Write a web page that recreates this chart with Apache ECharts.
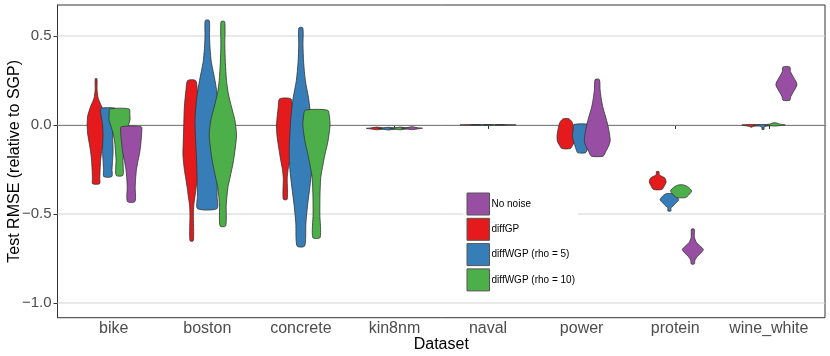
<!DOCTYPE html>
<html><head><meta charset="utf-8">
<script src="https://cdn.jsdelivr.net/npm/echarts@6/dist/echarts.min.js"></script>
<style>html,body{margin:0;padding:0;background:#fff}#c{width:830px;height:356px}</style>
</head><body><div id="c"></div>
<script>
const categories = ['bike','boston','concrete','kin8nm','naval','power','protein','wine_white'];
const seriesNames = ['diffGP','diffWGP (rho = 5)','diffWGP (rho = 10)','No noise'];
const legendOrder = ['No noise','diffGP','diffWGP (rho = 5)','diffWGP (rho = 10)'];
const colors = ['#E41A1C','#377EB8','#4DAF4A','#984EA3'];
const yTicks = [-1.0,-0.5,0.0,0.5];

// Violin outlines per dataset: [value, relative width] from top to bottom
const diffGP = [
  [[0.26,0.08],[0.2,0.09],[0.15,0.2],[0.1,0.55],[0.05,0.8],[0.0,0.85],[-0.05,0.8],[-0.1,0.66],[-0.15,0.52],[-0.2,0.43],[-0.25,0.38],[-0.3,0.35],[-0.33,0.33]],
  [[0.25,0.28],[0.2,0.4],[0.1,0.52],[0.0,0.56],[-0.1,0.6],[-0.17,0.62],[-0.25,0.52],[-0.3,0.42],[-0.35,0.32],[-0.4,0.24],[-0.45,0.15],[-0.5,0.12],[-0.65,0.12]],
  [[0.147,0.4],[0.1,0.5],[0.05,0.57],[0.0,0.62],[-0.05,0.6],[-0.1,0.52],[-0.15,0.42],[-0.2,0.32],[-0.25,0.2],[-0.3,0.14],[-0.417,0.14]],
  [[-0.012,0.05],[-0.016,0.5],[-0.019,1],[-0.023,0.5],[-0.027,0.05]],
  [[0.002,0.05],[0.0005,1],[-0.001,0.05]],
  [[0.035,0.2],[0.02,0.4],[0.0,0.5],[-0.03,0.58],[-0.06,0.64],[-0.09,0.62],[-0.11,0.5],[-0.132,0.3]],
  [[-0.262,0.12],[-0.28,0.15],[-0.29,0.45],[-0.3,0.7],[-0.32,0.8],[-0.34,0.65],[-0.362,0.4]],
  [[0.003,0.1],[0.0,0.9],[-0.004,0.6],[-0.008,0.15],[-0.012,0.1]]
];
const diffWGP5 = [
  [[0.095,0.66],[0.08,0.7],[0.05,0.62],[0.0,0.5],[-0.05,0.45],[-0.1,0.48],[-0.15,0.5],[-0.2,0.45],[-0.25,0.4],[-0.29,0.38]],
  [[0.587,0.14],[0.5,0.16],[0.43,0.2],[0.35,0.3],[0.25,0.55],[0.15,0.75],[0.05,0.86],[0.0,0.87],[-0.1,0.82],[-0.2,0.76],[-0.3,0.72],[-0.4,0.7],[-0.47,0.69]],
  [[0.545,0.14],[0.45,0.15],[0.35,0.2],[0.25,0.32],[0.15,0.55],[0.05,0.7],[-0.05,0.78],[-0.15,0.83],[-0.25,0.78],[-0.35,0.64],[-0.45,0.48],[-0.55,0.36],[-0.68,0.27]],
  [[-0.013,0.05],[-0.017,0.5],[-0.02,1],[-0.024,0.5],[-0.028,0.05]],
  [[0.002,0.05],[0.0005,1],[-0.001,0.05]],
  [[0.003,0.55],[-0.02,0.6],[-0.05,0.65],[-0.08,0.62],[-0.11,0.5],[-0.14,0.38],[-0.156,0.28]],
  [[-0.386,0.3],[-0.4,0.65],[-0.42,0.88],[-0.44,0.6],[-0.455,0.35],[-0.465,0.15],[-0.483,0.14]],
  [[0.002,0.3],[-0.002,0.9],[-0.007,0.3],[-0.012,0.1],[-0.025,0.1]]
];
const diffWGP10 = [
  [[0.09,0.92],[0.06,0.98],[0.03,1.0],[0.0,0.85],[-0.05,0.6],[-0.1,0.45],[-0.15,0.38],[-0.2,0.33],[-0.283,0.32]],
  [[0.58,0.13],[0.45,0.14],[0.35,0.18],[0.25,0.26],[0.18,0.38],[0.1,0.62],[0.03,0.85],[-0.05,0.97],[-0.1,0.93],[-0.2,0.76],[-0.3,0.5],[-0.35,0.36],[-0.45,0.24],[-0.567,0.2]],
  [[0.083,0.8],[0.05,0.92],[0.0,0.97],[-0.05,0.9],[-0.1,0.8],[-0.15,0.65],[-0.2,0.52],[-0.25,0.4],[-0.3,0.3],[-0.4,0.25],[-0.5,0.24],[-0.632,0.26]],
  [[-0.012,0.05],[-0.016,0.5],[-0.019,1],[-0.023,0.5],[-0.027,0.05]],
  [[0.002,0.05],[0.0005,1],[-0.001,0.05]],
  null,
  [[-0.337,0.25],[-0.35,0.7],[-0.37,1.0],[-0.385,0.85],[-0.4,0.6],[-0.408,0.45]],
  [[0.012,0.15],[0.006,0.4],[0.0,1.0],[-0.004,0.4],[-0.006,0.1]]
];
const noNoise = [
  [[-0.01,0.95],[-0.04,1.0],[-0.1,0.92],[-0.15,0.82],[-0.2,0.65],[-0.25,0.5],[-0.3,0.42],[-0.35,0.38],[-0.43,0.36]],
  null,
  null,
  [[-0.01,0.05],[-0.015,0.5],[-0.018,1],[-0.022,0.5],[-0.026,0.05]],
  [[0.002,0.05],[0.0005,1],[-0.001,0.05]],
  [[0.255,0.15],[0.2,0.2],[0.15,0.28],[0.1,0.4],[0.05,0.58],[0.0,0.75],[-0.05,0.87],[-0.09,0.92],[-0.12,0.8],[-0.15,0.6],[-0.175,0.42]],
  [[-0.585,0.13],[-0.63,0.15],[-0.66,0.35],[-0.68,0.7],[-0.7,1.0],[-0.72,0.75],[-0.74,0.4],[-0.76,0.2],[-0.781,0.14]],
  [[0.326,0.32],[0.3,0.38],[0.27,0.65],[0.245,0.9],[0.225,1.0],[0.2,0.8],[0.18,0.6],[0.16,0.42],[0.139,0.32]]
];
const profiles = [diffGP, diffWGP5, diffWGP10, noNoise];

const FONT = "'Liberation Sans', Arial, Helvetica, sans-serif";
const X_MIN = 0.4, X_MAX = 8.6;
const DODGE = 0.5, VWIDTH = 0.9;

function placement(s, ci) {
  const present = [];
  for (let k = 0; k < profiles.length; k++) if (profiles[k][ci]) present.push(k);
  const n = present.length, r = present.indexOf(s);
  return { cx: ci + 1 + (r - (n - 1) / 2) * DODGE / n, half: VWIDTH / n / 2 };
}

const violinSeries = seriesNames.map((name, s) => ({
  type: 'custom',
  name: name,
  z: 3,
  itemStyle: { color: colors[s], borderColor: '#333', borderWidth: 0.8 },
  data: categories.map((c, ci) => profiles[s][ci] ? [ci + 1, profiles[s][ci][0][0], profiles[s][ci][profiles[s][ci].length - 1][0]] : null).filter(d => d),
  encode: { x: 0, y: [1, 2] },
  renderItem: function (params, api) {
    const ci = api.value(0) - 1;
    const prof = profiles[s][ci];
    const p = placement(s, ci);
    const right = prof.map(([v, w]) => api.coord([p.cx + w * p.half, v]));
    const left = prof.slice().reverse().map(([v, w]) => api.coord([p.cx - w * p.half, v]));
    return {
      type: 'polygon',
      shape: { points: right.concat(left), smooth: 0.25 },
      style: { fill: colors[s], stroke: '#333', lineWidth: 0.8 }
    };
  }
}));

const gridSeries = {
  type: 'custom',
  name: 'grid',
  silent: true,
  z: 1,
  data: yTicks.map(v => [v]),
  renderItem: function (params, api) {
    const v = api.value(0);
    const a = api.coord([X_MIN, v]), b = api.coord([X_MAX, v]);
    return { type: 'line', shape: { x1: a[0], y1: a[1], x2: b[0], y2: b[1] }, style: { stroke: '#d4d4d4', lineWidth: 1 } };
  }
};

const chart = echarts.init(document.getElementById('c'));
chart.setOption({
  animation: false,
  backgroundColor: '#fff',
  textStyle: { fontFamily: FONT },
  grid: { left: 57.5, right: 5, top: 5, bottom: 38.3, containLabel: false, outerBoundsMode: 'none', show: true, borderColor: '#333', borderWidth: 1, backgroundColor: 'transparent' },
  xAxis: {
    type: 'value', min: X_MIN, max: X_MAX,
    name: 'Dataset', nameLocation: 'middle', nameGap: 19, nameMoveOverlap: false,
    nameTextStyle: { color: '#000', fontSize: 16, fontFamily: FONT },
    axisLine: { lineStyle: { color: '#333' } },
    axisTick: { customValues: categories.map((c, i) => i + 1), length: 4, lineStyle: { color: '#333' } },
    axisLabel: { customValues: categories.map((c, i) => i + 1), formatter: v => categories[Math.round(v) - 1], color: '#4d4d4d', fontSize: 16, margin: 3, fontFamily: FONT },
    splitLine: { show: false }
  },
  yAxis: {
    type: 'value', min: -1.0826, max: 0.674,
    name: 'Test RMSE (relative to SGP)', nameLocation: 'middle', nameGap: 35, nameMoveOverlap: false,
    nameTextStyle: { color: '#000', fontSize: 16, fontFamily: FONT },
    axisLine: { show: true, lineStyle: { color: '#333' } },
    axisTick: { show: true, customValues: yTicks, length: 4, lineStyle: { color: '#333' } },
    axisLabel: { customValues: yTicks, formatter: v => v.toFixed(1).replace('-', '\u2212'), color: '#4d4d4d', fontSize: 15, margin: 6, fontFamily: FONT },
    splitLine: { show: false }
  },
  legend: {
    data: legendOrder,
    orient: 'vertical',
    left: 463.5, top: 189.5,
    padding: 3,
    backgroundColor: '#fff',
    itemWidth: 22.5, itemHeight: 22, itemGap: 2.3,
    icon: 'rect',
    selectedMode: false,
    itemStyle: { borderColor: '#555', borderWidth: 1 },
    textStyle: { fontSize: 10, color: '#000', fontFamily: FONT, padding: [0, 0, 0, -3] }
  },
  series: [gridSeries].concat(violinSeries)
});
</script></body></html>
